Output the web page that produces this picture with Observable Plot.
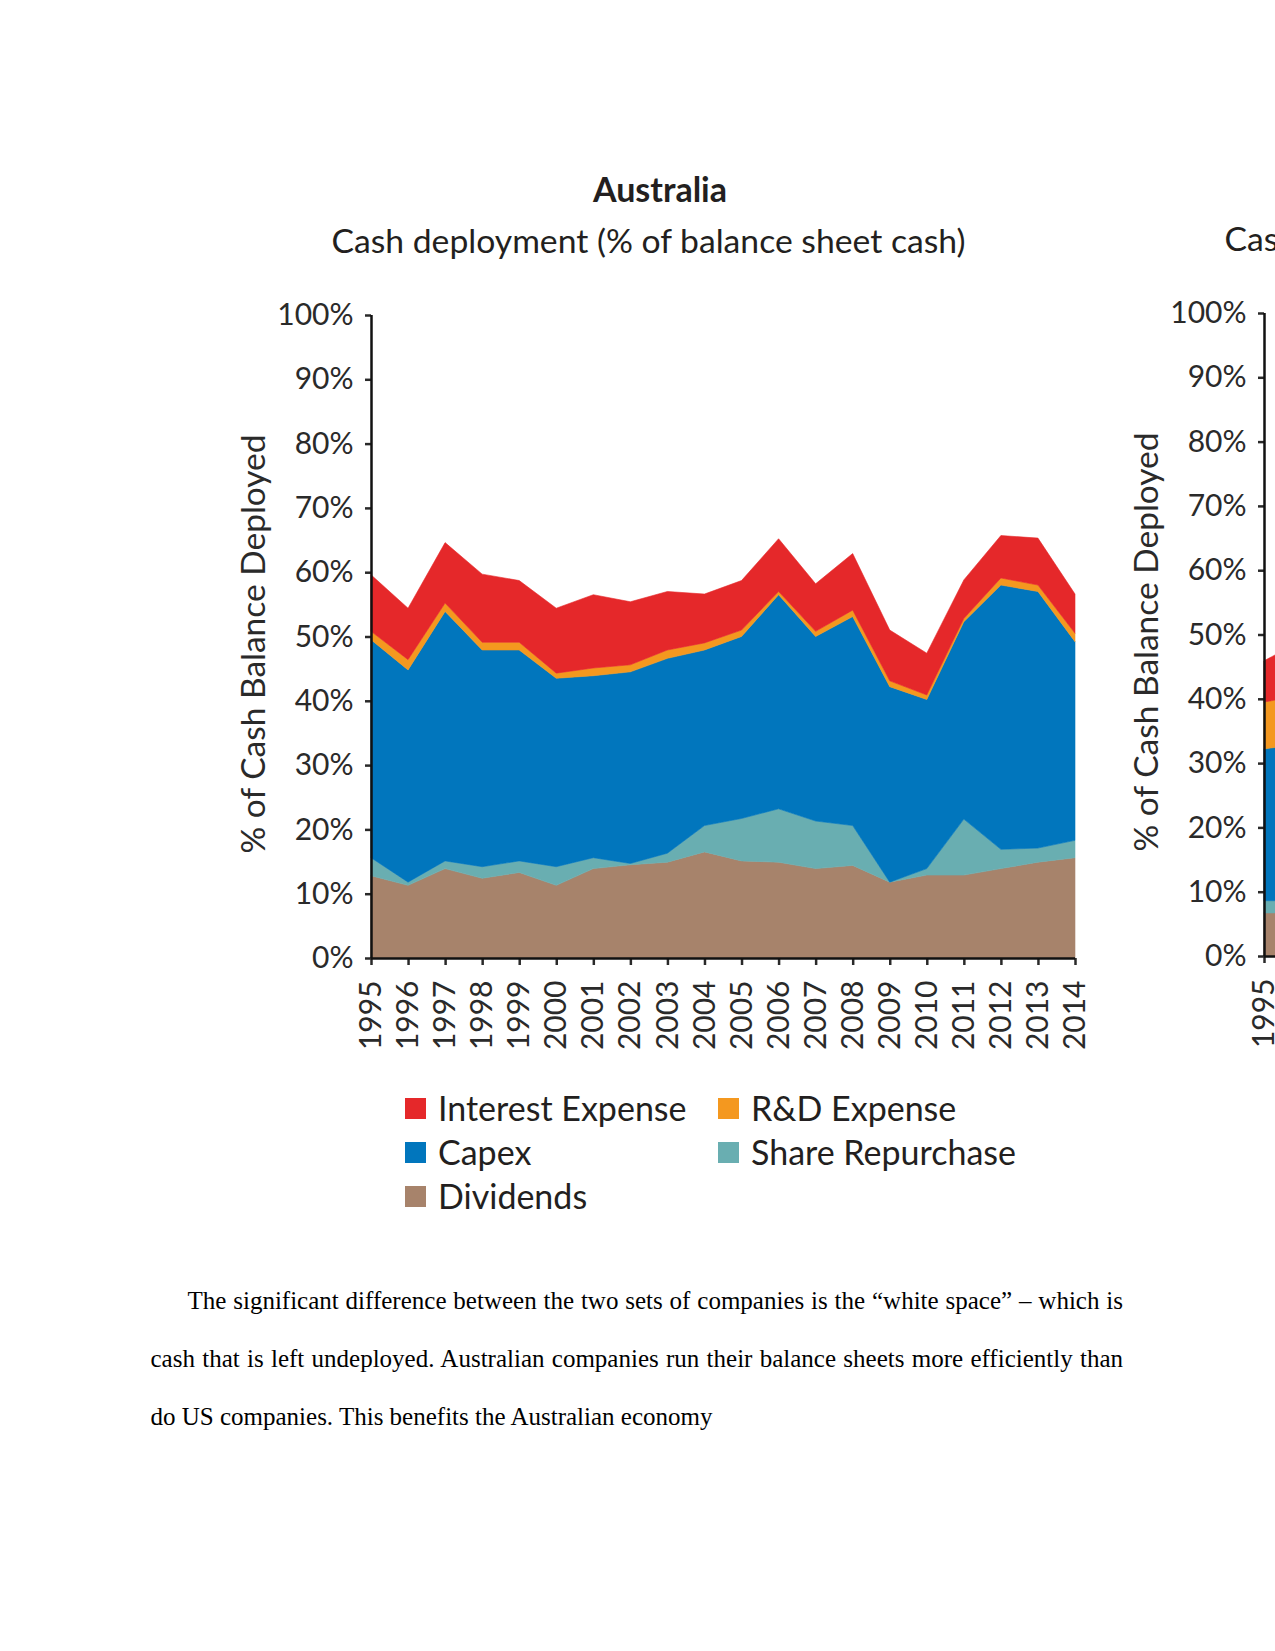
<!DOCTYPE html>
<html>
<head>
<meta charset="utf-8">
<script src="https://cdn.jsdelivr.net/npm/d3@7"></script>
<script src="https://cdn.jsdelivr.net/npm/@observablehq/plot@0.6"></script>
<style>
  html, body { margin: 0; padding: 0; background: #fff; }
  #page { position: relative; width: 1275px; height: 1651px; overflow: hidden; background: #fff;
          font-family: Lato, "Open Sans", sans-serif; color: #231f20; }
  .abs { position: absolute; white-space: nowrap; }
  .title { font-weight: 700; font-size: 34px; line-height: 34px; text-align: center; }
  .subtitle { font-size: 33.7px; line-height: 34px; text-align: center; }
  .chart { position: absolute; }
  .legend { position: absolute; display: grid; grid-template-columns: 313px 400px; grid-auto-rows: 44px; }
  .legend .item { display: flex; align-items: center; font-size: 34px; line-height: 44px; white-space: nowrap; }
  .legend .sw { width: 21px; height: 21px; margin-right: 12px; flex: none; }
  .para { position: absolute; left: 150.5px; width: 972.5px; font-family: "Liberation Serif", "Times New Roman", serif;
          font-size: 25px; line-height: 58px; color: #000; }
  .para div { text-align: justify; white-space: nowrap; }
  .para .full { text-align-last: justify; white-space: normal; }
</style>
</head>
<body>
<div id="page">
  <div class="para" style="top:1271.5px">
    <div class="full" style="text-indent:37px">The significant difference between the two sets of companies is the “white space” – which is</div>
    <div class="full">cash that is left undeployed. Australian companies run their balance sheets more efficiently than</div>
    <div>do US companies. This benefits the Australian economy</div>
  </div>
</div>
<script>
// ---------- data (Australia) ----------
const years = [1995, 1996, 1997, 1998, 1999, 2000, 2001, 2002, 2003, 2004,
               2005, 2006, 2007, 2008, 2009, 2010, 2011, 2012, 2013, 2014];
const dividends       = [12.8, 11.3, 13.9, 12.4, 13.3, 11.3, 13.9, 14.5, 14.9, 16.5, 15.1, 14.9, 13.9, 14.4, 11.8, 12.9, 12.9, 13.9, 14.9, 15.6];
const shareRepurchase = [2.8, 0.5, 1.2, 1.8, 1.8, 2.9, 1.7, 0.2, 1.4, 4.1, 6.6, 8.3, 7.4, 6.2, 0.0, 1.0, 8.7, 3.0, 2.2, 2.7];
const capex           = [33.9, 33.0, 38.8, 33.7, 32.8, 29.3, 28.3, 29.8, 30.3, 27.3, 28.3, 33.3, 28.7, 32.5, 30.4, 26.3, 30.7, 41.1, 39.9, 30.9];
const rdExpense       = [1.3, 1.6, 1.3, 1.2, 1.2, 0.8, 1.2, 1.1, 1.3, 1.1, 1.0, 0.5, 0.8, 1.0, 0.9, 0.7, 0.5, 1.1, 1.0, 1.3];
const interestExpense = [8.8, 8.0, 9.4, 10.6, 9.6, 10.1, 11.4, 9.8, 9.1, 7.6, 7.7, 8.2, 7.4, 8.8, 7.9, 6.5, 6.0, 6.6, 7.3, 6.1];

// ---------- data (second, cropped chart: only its left edge is visible) ----------
const usYears           = [1995, 1996];
const usDividends       = [6.7, 6.7];
const usShareRepurchase = [1.9, 1.9];
const usCapex           = [23.6, 24.4];
const usRdExpense       = [7.3, 7.5];
const usInterestExpense = [6.4, 8.5];

// ---------- labels ----------
const seriesNames  = ["Interest Expense", "R&D Expense", "Capex", "Share Repurchase", "Dividends"];
const seriesColors = ["#e5282a", "#f4981f", "#0176bd", "#69aeb1", "#a7836b"];
const stackOrder   = ["Dividends", "Share Repurchase", "Capex", "R&D Expense", "Interest Expense"];
const yTicks = [0, 10, 20, 30, 40, 50, 60, 70, 80, 90, 100];
const titleAU = "Australia";
const subtitleText = "Cash deployment (% of balance sheet cash)";
const yLabel = "% of Cash Balance Deployed";

function toRows(yrs, map) {
  const rows = [];
  for (const [name, vals] of Object.entries(map)) vals.forEach((v, i) => rows.push({year: yrs[i], name, value: v}));
  return rows;
}

function buildChart(rows) {
  return Plot.plot({
    width: 1100, height: 820,
    marginLeft: 371, marginRight: 25, marginTop: 55, marginBottom: 122,
    style: {fontFamily: "Lato, 'Open Sans', sans-serif", fontSize: "30px", color: "#2a2a2a", background: "transparent", overflow: "visible"},
    x: {domain: [years[0], years[years.length - 1]]},
    y: {domain: [0, 100]},
    color: {domain: seriesNames, range: seriesColors},
    marks: [
      Plot.areaY(rows, {x: "year", y: "value", fill: "name", z: "name", order: stackOrder,
                        stroke: "name", strokeWidth: 0.6}),
      Plot.axisY({ticks: yTicks, tickFormat: d => d + "%", tickSize: 6, tickPadding: 12, strokeWidth: 2.5, label: null}),
      Plot.axisX({ticks: years, tickFormat: d => String(d), tickSize: 7, tickPadding: 15, tickRotate: -90, strokeWidth: 2.5, label: null}),
      Plot.ruleX([years[0]], {strokeWidth: 2.5, stroke: "#111"}),
      Plot.ruleY([0], {strokeWidth: 2.5, stroke: "#111"}),
      Plot.text([yLabel], {text: d => d, frameAnchor: "left", textAnchor: "middle", lineAnchor: "middle",
                           rotate: -90, dx: -117, dy: 7, fontSize: 33.5})
    ]
  });
}

const page = document.getElementById("page");
function place(el, left, top) { el.style.position = "absolute"; el.style.left = left + "px"; el.style.top = top + "px"; return el; }
function textDiv(cls, text, centerX, top, w) {
  const d = document.createElement("div");
  d.className = "abs " + cls; d.textContent = text;
  d.style.width = w + "px"; d.style.left = (centerX - w / 2) + "px"; d.style.top = top + "px";
  page.appendChild(d); return d;
}

// Australia chart
textDiv("title", titleAU, 660, 172, 600);
textDiv("subtitle", subtitleText, 648.5, 223, 900);
const au = buildChart(toRows(years, {
  "Dividends": dividends, "Share Repurchase": shareRepurchase, "Capex": capex,
  "R&D Expense": rdExpense, "Interest Expense": interestExpense
}));
au.classList.add("chart"); page.appendChild(place(au, 0, 260));

// second chart (cropped at the page edge)
textDiv("subtitle", subtitleText, 648.5 + 893, 220.5, 900);
const us = buildChart(toRows(usYears, {
  "Dividends": usDividends, "Share Repurchase": usShareRepurchase, "Capex": usCapex,
  "R&D Expense": usRdExpense, "Interest Expense": usInterestExpense
}));
us.classList.add("chart"); page.appendChild(place(us, 893, 257.5));

// legend
const legend = document.createElement("div");
legend.className = "legend"; legend.style.left = "405px"; legend.style.top = "1086px";
seriesNames.forEach((n, i) => {
  const it = document.createElement("div"); it.className = "item";
  const sw = document.createElement("span"); sw.className = "sw"; sw.style.background = seriesColors[i];
  const tx = document.createElement("span"); tx.textContent = n;
  it.appendChild(sw); it.appendChild(tx); legend.appendChild(it);
});
page.appendChild(legend);
</script>
</body>
</html>
